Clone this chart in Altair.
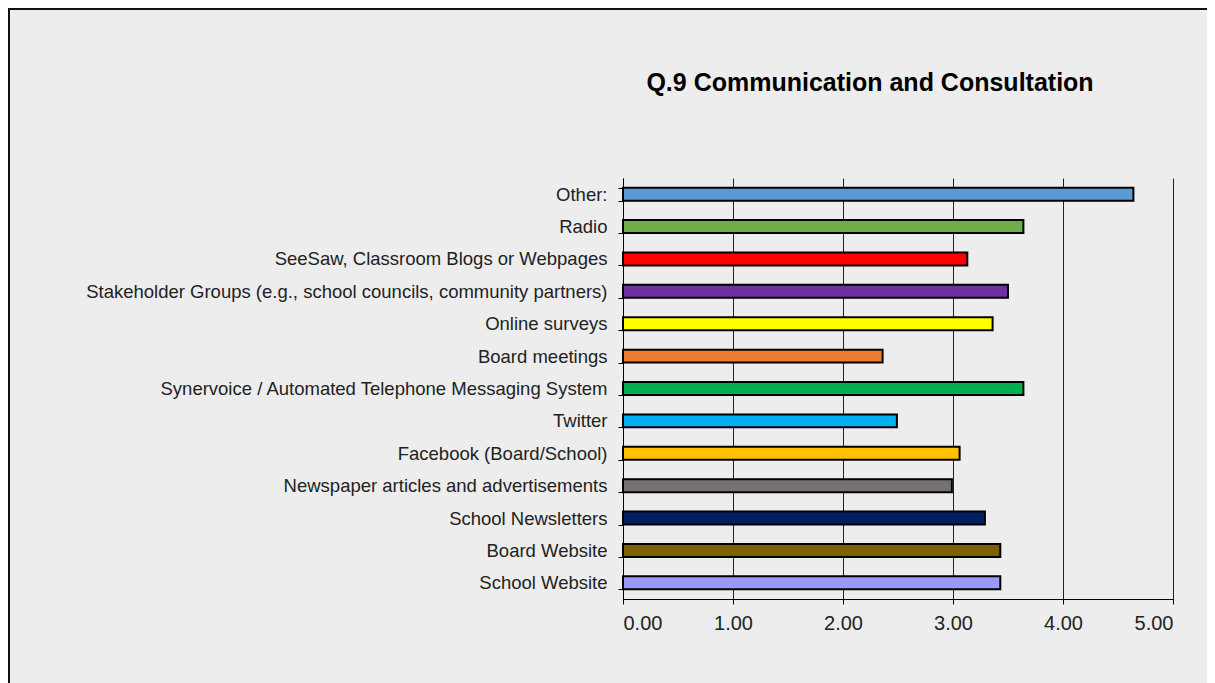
import altair as alt
import pandas as pd

categories = [
    "Other:",
    "Radio",
    "SeeSaw, Classroom Blogs or Webpages",
    "Stakeholder Groups (e.g., school councils, community partners)",
    "Online surveys",
    "Board meetings",
    "Synervoice / Automated Telephone Messaging System",
    "Twitter",
    "Facebook (Board/School)",
    "Newspaper articles and advertisements",
    "School Newsletters",
    "Board Website",
    "School Website",
]
values = [4.64, 3.64, 3.13, 3.50, 3.36, 2.36, 3.64, 2.49, 3.06, 2.99, 3.29, 3.43, 3.43]
colors = [
    "#5b9bd5", "#70ad47", "#ff0000", "#7030a0", "#ffff00", "#ed7d31",
    "#00b050", "#00b0f0", "#ffc000", "#767171", "#002060", "#7f6000", "#9999ff",
]
tick_values = [0, 1, 2, 3, 4, 5]

df = pd.DataFrame({"category": categories, "value": values, "color": colors})

FONT = "Liberation Sans"

frame = alt.Chart(pd.DataFrame({"a": [0]})).mark_rect(
    fill=None, stroke="#111111", strokeWidth=2, clip=False
).encode(
    x=alt.value(-614), x2=alt.value(640),
    y=alt.value(-169), y2=alt.value(560),
)

bars = alt.Chart(df).mark_bar(stroke="black", strokeWidth=2).encode(
    y=alt.Y(
        "category:N",
        sort=categories,
        scale=alt.Scale(paddingInner=0.6, paddingOuter=0.3),
        axis=alt.Axis(
            title=None, tickBand="extent", labelFontSize=18.5, labelFont=FONT,
            labelColor="#222222", labelPadding=11, tickSize=5, tickColor="black",
            domainColor="black", labelLimit=0,
        ),
    ),
    x=alt.X(
        "value:Q",
        scale=alt.Scale(domain=[0, 5], nice=False),
        axis=alt.Axis(
            title=None, values=tick_values, format=".2f", grid=True,
            gridColor="#222222", gridOpacity=1, labelFontSize=20, labelFont=FONT,
            labelColor="#222222", labelPadding=9, tickSize=5, tickColor="black",
            domainColor="black",
        ),
    ),
    color=alt.Color("color:N", scale=None, legend=None),
)

chart = alt.layer(frame, bars).properties(
    width=550,
    height=421,
    title=alt.Title(
        "Q.9 Communication and Consultation", anchor="middle", frame="group",
        dx=-28, offset=-88, fontSize=25, fontWeight="bold", font=FONT,
        color="black",
    ),
    background="#ededed",
    padding={"left": 615, "top": 170, "right": 34, "bottom": 110},
    autosize=alt.AutoSizeParams(type="none"),
).configure_view(stroke=None)

chart.save("out.html", embed_options={"renderer": "svg", "actions": False})
